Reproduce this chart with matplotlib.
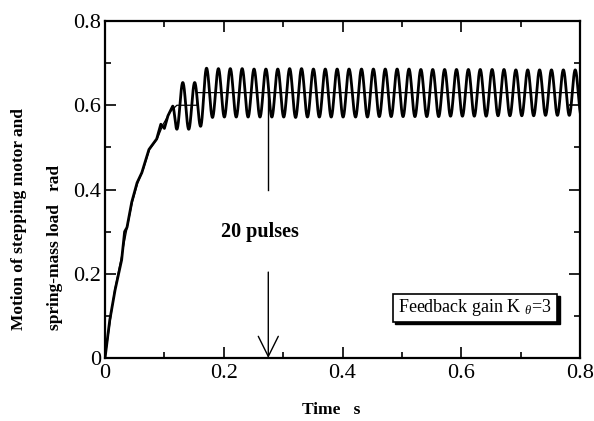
import numpy as np
import matplotlib
matplotlib.use("Agg")
import matplotlib.pyplot as plt
from matplotlib.patches import Rectangle

plt.rcParams['font.family'] = ['Liberation Serif', 'DejaVu Serif']
plt.rcParams['mathtext.fontset'] = 'custom'
plt.rcParams['mathtext.rm'] = 'Liberation Serif'
plt.rcParams['mathtext.it'] = 'Liberation Serif:italic'

# Stepping motor (thin line): rise, then holds at final position
motor_t = [0.0, 0.006, 0.016, 0.027, 0.036, 0.046, 0.055, 0.065, 0.075, 0.088,
           0.098, 0.110, 0.121, 0.155, 0.155, 0.80]
motor_v = [0.0, 0.060, 0.160, 0.235, 0.300, 0.370, 0.415, 0.450, 0.495, 0.520,
           0.555, 0.585, 0.600, 0.600, 0.630, 0.630]

# Spring-mass load (thick line): rise part
load_rise_t = [0.0, 0.008, 0.017, 0.028, 0.033, 0.037, 0.045, 0.054, 0.062, 0.074,
               0.087, 0.094, 0.100, 0.106]
load_rise_v = [0.0, 0.090, 0.162, 0.233, 0.300, 0.310, 0.370, 0.416, 0.440, 0.495,
               0.520, 0.555, 0.545, 0.575]

# Spring-mass load: extrema of the residual vibration (time, value)
load_ext_t = [0.114, 0.121, 0.131, 0.141, 0.151, 0.161,
              0.171, 0.181, 0.191, 0.201, 0.211, 0.221, 0.231, 0.241, 0.251, 0.261,
              0.271, 0.281, 0.291, 0.301, 0.311, 0.321, 0.331, 0.341, 0.351, 0.361,
              0.371, 0.381, 0.391, 0.401, 0.411, 0.422, 0.432, 0.442, 0.452, 0.462,
              0.472, 0.482, 0.492, 0.502, 0.512, 0.522, 0.532, 0.542, 0.552, 0.562,
              0.572, 0.582, 0.592, 0.602, 0.612, 0.622, 0.632, 0.642, 0.652, 0.662,
              0.672, 0.682, 0.692, 0.702, 0.712, 0.722, 0.732, 0.742, 0.752, 0.762,
              0.772, 0.782, 0.792, 0.802]
load_ext_v = [0.598, 0.543, 0.654, 0.543, 0.654, 0.550,
              0.688, 0.571, 0.687, 0.572, 0.687, 0.572, 0.687, 0.572, 0.686, 0.572,
              0.686, 0.572, 0.686, 0.572, 0.687, 0.571, 0.687, 0.572, 0.686, 0.572,
              0.686, 0.572, 0.686, 0.572, 0.686, 0.572, 0.686, 0.572, 0.686, 0.573,
              0.686, 0.573, 0.686, 0.573, 0.686, 0.573, 0.685, 0.573, 0.685, 0.573,
              0.685, 0.574, 0.685, 0.574, 0.685, 0.574, 0.685, 0.574, 0.685, 0.575,
              0.685, 0.575, 0.684, 0.575, 0.684, 0.575, 0.684, 0.576, 0.684, 0.576,
              0.684, 0.576, 0.684, 0.576]

arrow_t = 0.275
x_ticks = [0, 0.2, 0.4, 0.6, 0.8]
y_ticks = [0, 0.2, 0.4, 0.6, 0.8]
tick_labels = ["0", "0.2", "0.4", "0.6", "0.8"]


def smooth_between(ts, vs, n=24):
    # half-cosine segments so the curve turns smoothly at every extremum
    out_t, out_v = [], []
    for i in range(len(ts) - 1):
        s = np.linspace(0, 1, n, endpoint=False)
        out_t.extend(ts[i] + (ts[i + 1] - ts[i]) * s)
        out_v.extend(vs[i] + (vs[i + 1] - vs[i]) * (1 - np.cos(np.pi * s)) / 2)
    out_t.append(ts[-1])
    out_v.append(vs[-1])
    return out_t, out_v


osc_t, osc_v = smooth_between(load_ext_t, load_ext_v)
load_t = load_rise_t + list(osc_t)
load_v = load_rise_v + list(osc_v)

fig = plt.figure(figsize=(5.94, 4.21), dpi=100)
ax = fig.add_axes([0.1768, 0.1496, 0.7996, 0.8005])

ax.plot(load_t, load_v, color='black', lw=2.0, solid_joinstyle='round')
ax.plot(motor_t, motor_v, color='black', lw=0.9)

ax.set_xlim(0, 0.8)
ax.set_ylim(0, 0.8)
ax.set_xticks(x_ticks)
ax.set_xticklabels(tick_labels)
ax.set_yticks(y_ticks)
ax.set_yticklabels(tick_labels)
ax.set_xticks(np.arange(0.1, 0.8, 0.2), minor=True)
ax.set_yticks(np.arange(0.1, 0.8, 0.2), minor=True)
ax.tick_params(which='both', direction='in', top=True, right=True, width=1.2)
ax.tick_params(which='major', length=8, labelsize=16)
ax.tick_params(axis='x', which='major', pad=4)
ax.tick_params(axis='y', which='major', pad=3)
ax.tick_params(which='minor', length=4.5)
for sp in ax.spines.values():
    sp.set_linewidth(1.6)

# 20-pulse marker: vertical line with a gap for the label and an open arrowhead
ax.plot([arrow_t, arrow_t], [0.63, 0.40], color='black', lw=1.0)
ax.annotate('', xy=(arrow_t, 0.0), xytext=(arrow_t, 0.204),
            arrowprops=dict(arrowstyle='->,head_length=1.45,head_width=0.72',
                            mutation_scale=10, lw=1.0, color='black',
                            shrinkA=0, shrinkB=0))
ax.text(0.261, 0.299, "20 pulses", fontsize=14.5, fontweight='bold',
        ha='center', va='center')

# gain label with a drop shadow
bx, by, bw, bh = 0.606, 0.107, 0.346, 0.083
ax.add_patch(Rectangle((bx + 0.005, by - 0.007), bw, bh, transform=ax.transAxes,
                       facecolor='black', edgecolor='black', zorder=4))
ax.add_patch(Rectangle((bx, by), bw, bh, transform=ax.transAxes,
                       facecolor='white', edgecolor='black', lw=1.2, zorder=5))
ax.text(bx + bw / 2, by + bh / 2, r"Feedback gain K $_{\theta}$=3",
        transform=ax.transAxes, fontsize=13, ha='center', va='center', zorder=6)

fig.text(331 / 594, 1 - 410 / 421, "Time   s", fontsize=12.5, fontweight='bold',
         ha='center', va='center')
fig.text(19 / 594, 1 - 330 / 421, "Motion of stepping motor and", fontsize=12.5,
         fontweight='bold', rotation=90, ha='center', va='bottom')
fig.text(55 / 594, 1 - 330 / 421, "spring-mass load   rad", fontsize=12.5,
         fontweight='bold', rotation=90, ha='center', va='bottom')

fig.savefig("out.png", dpi=100)
